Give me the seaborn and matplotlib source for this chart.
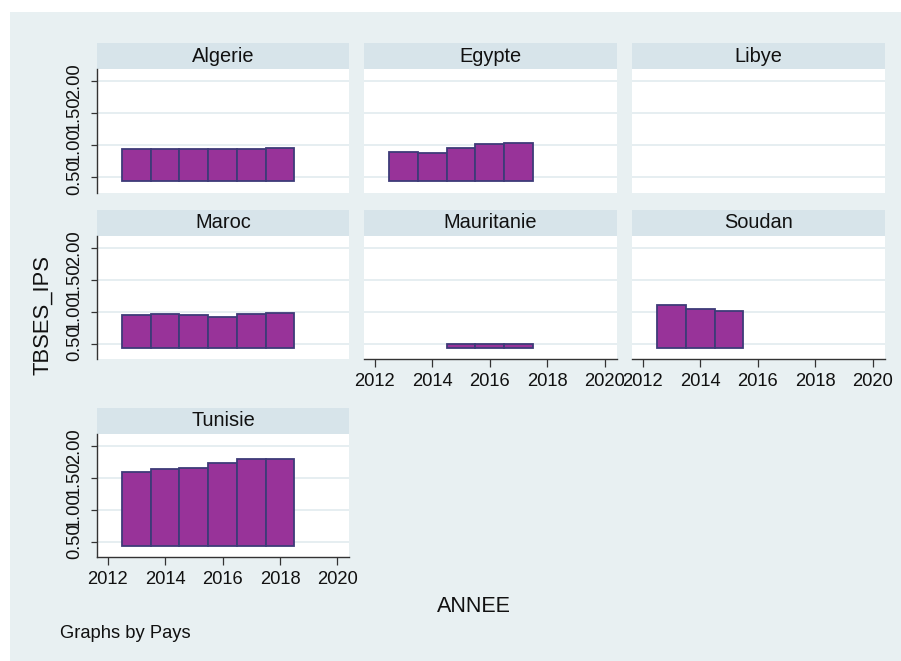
import numpy as np
import pandas as pd
import matplotlib
matplotlib.use("Agg")
import matplotlib.pyplot as plt
from matplotlib.patches import Rectangle
import seaborn as sns

# Valeurs (TBSES_IPS par pays et par année)
pays = ["Algerie", "Egypte", "Libye", "Maroc", "Mauritanie", "Soudan", "Tunisie"]

annees_algerie = [2013, 2014, 2015, 2016, 2017, 2018]
tbses_algerie = [0.94, 0.94, 0.945, 0.94, 0.94, 0.955]

annees_egypte = [2013, 2014, 2015, 2016, 2017]
tbses_egypte = [0.89, 0.885, 0.958, 1.016, 1.03]

annees_libye = []
tbses_libye = []

annees_maroc = [2013, 2014, 2015, 2016, 2017, 2018]
tbses_maroc = [0.955, 0.965, 0.955, 0.925, 0.97, 0.985]

annees_mauritanie = [2015, 2016, 2017]
tbses_mauritanie = [0.49, 0.50, 0.49]

annees_soudan = [2013, 2014, 2015]
tbses_soudan = [1.10, 1.05, 1.01]

annees_tunisie = [2013, 2014, 2015, 2016, 2017, 2018]
tbses_tunisie = [1.594, 1.64, 1.65, 1.725, 1.797, 1.80]

y_ticks = [0.5, 1.0, 1.5, 2.0]
x_ticks = [2012, 2014, 2016, 2018, 2020]

BASE = 0.44
BG = "#E8F0F2"
STRIP = "#D7E4EA"
VIOLET = "#983399"
BORD = "#3E3B78"
GRID = "#E6EEF1"

W, H = 901, 661

series = {
    "Algerie": (annees_algerie, tbses_algerie),
    "Egypte": (annees_egypte, tbses_egypte),
    "Libye": (annees_libye, tbses_libye),
    "Maroc": (annees_maroc, tbses_maroc),
    "Mauritanie": (annees_mauritanie, tbses_mauritanie),
    "Soudan": (annees_soudan, tbses_soudan),
    "Tunisie": (annees_tunisie, tbses_tunisie),
}
df = pd.concat(
    [pd.DataFrame({"Pays": p, "ANNEE": a, "TBSES_IPS": v}) for p, (a, v) in series.items()],
    ignore_index=True,
)
df["ANNEE"] = df["ANNEE"].astype(float)
df["TBSES_IPS"] = df["TBSES_IPS"].astype(float)

sns.set_theme(style="white")
plt.rcParams["font.family"] = ["Liberation Sans", "DejaVu Sans"]


def barres(x, y, **kws):
    plt.bar(x, np.asarray(y) - BASE, bottom=BASE, width=1.0, color=VIOLET,
            edgecolor=BORD, linewidth=1.3, zorder=3)


g = sns.FacetGrid(df, col="Pays", col_order=pays, col_wrap=3, sharex=False, sharey=False)
g.map(barres, "ANNEE", "TBSES_IPS")

fig = g.figure
fig.set_size_inches(W / 100, H / 100)
fig.patch.set_facecolor("white")
fig.add_artist(Rectangle((10 / W, 0), 1, (H - 12) / H, transform=fig.transFigure,
                         facecolor=BG, edgecolor="none", zorder=-10))

col_left = [96.7, 364, 632]
row_top = [69.3, 235.7, 433.7]
pw, ph, sh = 252.5, 123.3, 26

axes = g.axes.flat
for i, (ax, nom) in enumerate(zip(axes, pays)):
    r, c = divmod(i, 3)
    ax.set_position([col_left[c] / W, 1 - (row_top[r] + ph) / H, pw / W, ph / H])
    ax.set_facecolor("white")
    ax.set_title("")
    ax.set_xlabel("")
    ax.set_ylabel("")
    ax.set_xlim(2011.62, 2020.41)
    ax.set_ylim(0.26, 2.19)
    ax.set_yticks(y_ticks)
    ax.set_yticklabels([f"{t:.2f}" for t in y_ticks])
    ax.set_xticks(x_ticks)
    ax.set_xticklabels([str(t) for t in x_ticks])
    ax.yaxis.grid(True, color=GRID, linewidth=1.4)
    ax.xaxis.grid(False)
    ax.set_axisbelow(True)
    for s in ax.spines.values():
        s.set_visible(False)

    gauche = c == 0
    bas = nom in ("Mauritanie", "Soudan", "Tunisie")
    if gauche:
        ax.spines["left"].set_visible(True)
        ax.spines["left"].set_color("#333333")
        ax.spines["left"].set_linewidth(1.0)
    if bas:
        ax.spines["bottom"].set_visible(True)
        ax.spines["bottom"].set_color("#333333")
        ax.spines["bottom"].set_linewidth(1.0)
    ax.tick_params(axis="y", left=gauche, labelleft=gauche, length=4, width=0.9,
                   color="#333333", labelsize=13.2, labelcolor="#111111", pad=6,
                   labelrotation=90)
    for lab in ax.get_yticklabels():
        lab.set_va("center")
    ax.tick_params(axis="x", bottom=bas, labelbottom=bas, length=5.5, width=0.9,
                   color="#333333", labelsize=13.2, labelcolor="#111111", pad=4.5)

    # bandeau du titre
    ax.add_patch(Rectangle((0, 1), 1, sh / ph, transform=ax.transAxes, clip_on=False,
                           facecolor=STRIP, edgecolor="none"))
    ax.text(0.5, 1 + (sh / 2) / ph, nom, transform=ax.transAxes, ha="center",
            va="center", fontsize=14.4, color="#111111")

fig.text(43 / W, 1 - 315 / H, "TBSES_IPS", rotation=90, ha="center", va="center",
         fontsize=15.8, color="#111111")
fig.text(474 / W, 1 - 607 / H, "ANNEE", ha="center", va="center", fontsize=15.5,
         color="#111111")
fig.text(60 / W, 1 - 633 / H, "Graphs by Pays", ha="left", va="center", fontsize=13.2,
         color="#111111")

fig.savefig("out.png", dpi=100)
